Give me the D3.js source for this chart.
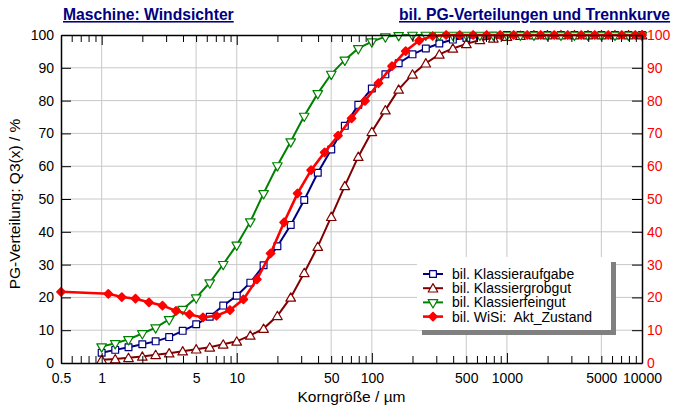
<!DOCTYPE html>
<html>
<head>
<meta charset="utf-8">
<script src="https://cdn.jsdelivr.net/npm/d3@7"></script>
<style>
  body { margin: 0; background: #fff; }
  svg { font-family: "Liberation Sans", Arial, sans-serif; }
</style>
</head>
<body>
<svg id="chart" width="673" height="409"></svg>
<script>
// particle sizes (upper class bounds) in µm
var sizes = [1, 1.26, 1.58, 2, 2.51, 3.16, 3.98, 5.01, 6.31, 7.94,
             10, 12.6, 15.8, 20, 25.1, 31.6, 39.8, 50.1, 63.1, 79.4,
             100, 126, 158, 200, 251, 316, 398, 501, 631, 794,
             1000, 1259, 1585, 1995, 2512, 3162, 3981, 5012, 6310, 7943, 10000];
// separation curve is plotted at the class means
var sizesWiSi = [0.5, 1.12, 1.41, 1.78, 2.24, 2.82, 3.55, 4.47, 5.62, 7.08, 8.91,
                 11.2, 14.1, 17.8, 22.4, 28.2, 35.5, 44.7, 56.2, 70.8, 89.1,
                 112, 141, 178, 224, 282, 355, 447, 562, 708, 891,
                 1122, 1413, 1778, 2239, 2818, 3548, 4467, 5623, 7079, 8913, 10000];

var aufgabe = [3.1, 4.0, 4.8, 5.7, 6.6, 7.9, 9.8, 11.8, 14.1, 17.5,
               20.5, 24.5, 29.8, 35.6, 42.1, 49.7, 58.0, 65.1, 72.3, 78.7,
               83.7, 88.0, 91.4, 94.1, 95.9, 97.4, 98.6, 99.1, 99.5, 99.8,
               100, 100, 100, 100, 100, 100, 100, 100, 100, 100, 100];
var grobgut = [1.0, 1.2, 1.6, 2.0, 2.5, 3.0, 3.6, 4.2, 4.8, 5.7,
               6.6, 8.4, 10.5, 14.4, 20.0, 27.5, 35.5, 44.6, 54.0, 62.9,
               70.5, 77.1, 83.4, 88.0, 91.4, 94.1, 95.9, 97.3, 98.5, 99.0,
               99.5, 99.8, 100, 100, 100, 100, 100, 100, 100, 100, 100];
var feingut = [5.0, 6.0, 7.2, 9.0, 10.8, 13.3, 16.4, 19.9, 24.5, 30.1,
               36.0, 43.1, 51.7, 60.2, 67.5, 75.3, 82.2, 88.1, 92.4, 95.9,
               98.0, 99.5, 99.9, 100, 100, 100, 100, 100, 100, 100,
               100, 100, 100, 100, 100, 100, 100, 100, 100, 100, 100];
var wisi = [21.7, 21.1, 20.1, 19.6, 18.5, 17.5, 15.9, 14.8, 13.9, 14.4, 16.1,
            19.4, 25.5, 33.4, 42.9, 51.7, 58.8, 64.2, 69.3, 74.6, 79.9,
            85.3, 90.5, 95.1, 98.3, 99.7, 100, 100, 100, 100, 100,
            100, 100, 100, 100, 100, 100, 100, 100, 100, 100, 100];

var xTickLabels = [0.5, 1, 5, 10, 50, 100, 500, 1000, 5000, 10000];
var xGrid = [1, 5, 10, 50, 100, 500, 1000, 5000];
var yTicks = [0, 10, 20, 30, 40, 50, 60, 70, 80, 90, 100];

var series = [
  {name: "bil. Klassieraufgabe", x: sizes, y: aufgabe, colour: "#000080", symbol: "square"},
  {name: "bil. Klassiergrobgut", x: sizes, y: grobgut, colour: "#800000", symbol: "up"},
  {name: "bil. Klassierfeingut", x: sizes, y: feingut, colour: "#008000", symbol: "down"},
  {name: "bil. WiSi:  Akt_Zustand", x: sizesWiSi, y: wisi, colour: "#ff0000", symbol: "diamond"}
];

var svg = d3.select("#chart"),
    plotL = 61, plotR = 642, plotT = 35, plotB = 363;

var x = d3.scaleLog().domain([0.5, 10000]).range([plotL, plotR]);
var y = d3.scaleLinear().domain([0, 100]).range([plotB, plotT]);

// minor ticks of the log axis: 2..9 of each decade inside the domain
var minorTicks = [], decadeTicks = [];
[0.1, 1, 10, 100, 1000].forEach(function(d) {
  for (var k = 1; k < 10; k++) {
    var v = d * k;
    if (v > 0.5 && v < 10000) (k == 1 ? decadeTicks : minorTicks).push(v);
  }
});
decadeTicks.push(10000);

//Grid
svg.append("g").selectAll("line").data(xGrid).enter().append("line")
  .attr("x1", function(d) { return x(d); }).attr("x2", function(d) { return x(d); })
  .attr("y1", plotT).attr("y2", plotB)
  .attr("stroke", "#c8c8c8").attr("stroke-width", 1);
svg.append("g").selectAll("line").data(yTicks.slice(1, -1)).enter().append("line")
  .attr("x1", plotL).attr("x2", plotR)
  .attr("y1", function(d) { return y(d); }).attr("y2", function(d) { return y(d); })
  .attr("stroke", "#c8c8c8").attr("stroke-width", 1);

//Legend box with shadow
svg.append("rect").attr("x", 422).attr("y", 262).attr("width", 194).attr("height", 73).attr("fill", "#808080");
svg.append("rect").attr("x", 417).attr("y", 257).attr("width", 194).attr("height", 73).attr("fill", "#fff");

function symbolPath(s) {
  if (s == "square") return d3.symbol(d3.symbolSquare, 46)();
  if (s == "diamond") return d3.symbol(d3.symbolDiamond2 || d3.symbolDiamond, 40)();
  return d3.symbol(d3.symbolTriangle, 40)();
}
function drawMarker(g, s, colour) {
  g.append("path")
    .attr("d", symbolPath(s))
    .attr("transform", s == "down" ? "rotate(180)" : (s == "up" ? "translate(0,1)" : null))
    .attr("fill", s == "diamond" ? colour : "#fff")
    .attr("stroke", colour)
    .attr("stroke-linejoin", "round")
    .attr("stroke-width", s == "diamond" ? 1.8 : 1.2);
}

//Curves
var line = d3.line()
  .x(function(d) { return x(d[0]); })
  .y(function(d) { return y(d[1]); });

series.forEach(function(s) {
  var pts = s.x.map(function(v, i) { return [v, s.y[i]]; });
  svg.append("path")
    .attr("d", line(pts))
    .attr("fill", "none")
    .attr("stroke", s.colour)
    .attr("stroke-width", s.symbol == "diamond" ? 2.6 : 2);
  svg.append("g").selectAll("g").data(pts).enter().append("g")
    .attr("transform", function(d) { return "translate(" + x(d[0]) + "," + y(d[1]) + ")"; })
    .each(function() { drawMarker(d3.select(this), s.symbol, s.colour); });
});

//Axes frame
function styleAxis(g) {
  g.selectAll("path.domain").attr("stroke", "#000").attr("stroke-width", 1.5);
  g.selectAll(".tick line").attr("stroke", "#000");
  g.selectAll(".tick text").style("font-size", "14px").attr("fill", "#000");
}
[[d3.axisBottom, plotB], [d3.axisTop, plotT]].forEach(function(a) {
  svg.append("g").attr("transform", "translate(0," + a[1] + ")")
    .call(a[0](x).tickValues(minorTicks).tickSize(-7).tickSizeOuter(0).tickFormat(""))
    .call(styleAxis);
  svg.append("g").attr("transform", "translate(0," + a[1] + ")")
    .call(a[0](x).tickValues(decadeTicks).tickSize(-10).tickSizeOuter(0).tickFormat(""))
    .call(styleAxis).select(".domain").remove();
});
svg.append("g").attr("transform", "translate(0," + plotB + ")")
  .call(d3.axisBottom(x).tickValues(xTickLabels).tickSize(0).tickPadding(10)
    .tickFormat(function(d) { return String(d); }))
  .call(styleAxis).select(".domain").remove();

svg.append("g").attr("transform", "translate(" + plotL + ",0)")
  .call(d3.axisLeft(y).tickValues(yTicks).tickSize(-10).tickSizeOuter(0).tickPadding(7))
  .call(styleAxis);
svg.append("g").attr("transform", "translate(" + plotR + ",0)")
  .call(d3.axisRight(y).tickValues(yTicks).tickSize(-10).tickSizeOuter(0).tickPadding(5))
  .call(styleAxis)
  .selectAll(".tick text").attr("fill", "#ff0000");

//Axis titles
svg.append("text")
  .attr("x", (plotL + plotR) / 2).attr("y", 402)
  .attr("text-anchor", "middle")
  .style("font-size", "15.5px")
  .text("Korngröße / µm");
svg.append("text")
  .attr("transform", "translate(20,204) rotate(-90)")
  .attr("text-anchor", "middle")
  .style("font-size", "15.5px")
  .text("PG-Verteilung: Q3(x) / %");

//Chart titles
svg.append("text")
  .attr("x", 63).attr("y", 20)
  .attr("fill", "#000080")
  .style("font-size", "15.7px").style("font-weight", "bold")
  .style("text-decoration", "underline")
  .text("Maschine: Windsichter");
svg.append("text")
  .attr("x", 399).attr("y", 20)
  .attr("fill", "#000080")
  .style("font-size", "15.7px").style("font-weight", "bold")
  .style("text-decoration", "underline")
  .text("bil. PG-Verteilungen und Trennkurve");

//Legend entries
var leg = svg.append("g").selectAll("g").data(series).enter().append("g")
  .attr("transform", function(d, i) { return "translate(423," + (274 + i * 14.2) + ")"; });
leg.append("line").attr("x1", 0).attr("x2", 20)
  .attr("stroke", function(d) { return d.colour; })
  .attr("stroke-width", function(d) { return d.symbol == "diamond" ? 2.6 : 2; });
leg.append("g").attr("transform", "translate(10,0)")
  .each(function(d) { drawMarker(d3.select(this), d.symbol, d.colour); });
leg.append("text")
  .attr("x", 29).attr("dy", "0.35em")
  .style("font-size", "14px")
  .style("white-space", "pre")
  .text(function(d) { return d.name; });
</script>
</body>
</html>
